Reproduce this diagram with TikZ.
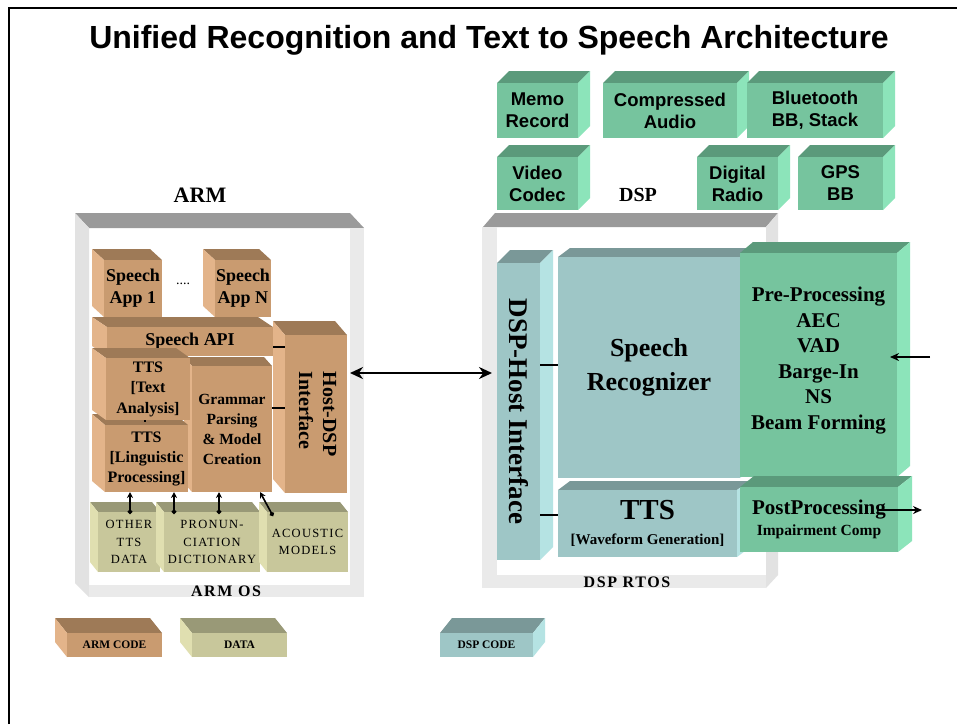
\documentclass[tikz,border=0pt]{standalone}
\usepackage{fontspec}
\setmainfont{Liberation Serif}
\newfontfamily\sansf{Liberation Sans}
\newfontfamily\dataf[LetterSpace=10]{Liberation Serif}
\usetikzlibrary{arrows.meta}
\definecolor{tanF}{HTML}{C99B70}
\definecolor{tanT}{HTML}{9E7A57}
\definecolor{tanS}{HTML}{E3B48A}
\definecolor{oliveF}{HTML}{C8C79B}
\definecolor{oliveT}{HTML}{999977}
\definecolor{oliveS}{HTML}{E0DFB0}
\definecolor{tealF}{HTML}{9EC6C6}
\definecolor{tealT}{HTML}{7A9898}
\definecolor{tealS}{HTML}{B5E3E3}
\definecolor{greenF}{HTML}{76C49E}
\definecolor{greenT}{HTML}{5B9A7B}
\definecolor{greenS}{HTML}{8CE4BA}
\definecolor{grayT}{HTML}{9A9A9A}
\definecolor{grayS}{HTML}{E2E2E2}
\definecolor{grayD}{HTML}{EAEAEA}
% name, x1, y1, x2, y2, dx, dy, colour prefix, node options; node text follows the call
\newcommand\cubeL[9]{%
  \fill[#8T] (#2,#3) -- ++(#6,#7) -- ++(#4-#2,0) -- (#4,#3) -- cycle;
  \fill[#8S] (#2,#3) -- ++(#6,#7) -- ++(0,#5-#3) -- (#2,#5) -- cycle;
  \node[fill=#8F, inner sep=0pt, outer sep=0pt, anchor=north west,
        minimum width={(#4-#2)*1pt}, minimum height={(#5-#3)*1pt}, align=center, #9] (#1) at (#2,#3)}
\newcommand\cubeR[9]{%
  \fill[#8T] (#2,#3) -- ++(#6,#7) -- ++(#4-#2,0) -- (#4,#3) -- cycle;
  \fill[#8S] (#4,#3) -- ++(#6,#7) -- ++(0,#5-#3) -- (#4,#5) -- cycle;
  \node[fill=#8F, inner sep=0pt, outer sep=0pt, anchor=north west,
        minimum width={(#4-#2)*1pt}, minimum height={(#5-#3)*1pt}, align=center, #9] (#1) at (#2,#3)}
\newcommand\fs[2]{\fontsize{#1}{#2}\selectfont}
\tikzset{
  apptxt/.style={font=\bfseries\fs{18}{22}},
  ttstxt/.style={font=\bfseries\fs{16}{20}},
  datatxt/.style={font=\dataf\fs{12.5}{17.5}},
  legtxt/.style={font=\bfseries\fs{11.5}{14}},
  greentxt/.style={font=\sansf\bfseries\fs{18.5}{22}},
  bigarrow/.style={line width=2.5pt, {Stealth[length=13pt,width=12pt]}-{Stealth[length=13pt,width=12pt]}},
  sidearrow/.style={line width=2.5pt, -{Stealth[length=9pt,width=8pt]}},
  dotarrow/.style={line width=1.6pt, {Circle[length=4.5pt]}-{Stealth[length=6pt,width=6pt]}},
  tick/.style={line width=2pt}
}
\begin{document}
\begin{tikzpicture}[x=1pt,y=-1pt]
\useasboundingbox[fill=white] (0,0) rectangle (957,724);
% frame
\draw[line width=2pt] (9,724) -- (9,8) -- (957,8);
% title
\node[font=\sansf\bfseries\fs{32}{34}, anchor=base] (title) at (489,48) {Unified Recognition and Text to Speech Architecture};

% ===== ARM container =====
\fill[grayT] (75,213) -- (350,213) -- (364,228) -- (89,228) -- cycle;
\fill[grayS] (75,213) -- (89,228) -- (89,597) -- (75,583) -- cycle;
\fill[grayD] (350,228) rectangle (364,597);
\fill[grayD] (89,585) rectangle (350,597);
\node[font=\dataf\bfseries\fs{16}{18}] (armos) at (226,591) {ARM OS};
\node[font=\bfseries\fs{22}{24}] (armlbl) at (200,195) {ARM};

\cubeL{hdi}{285}{335}{347}{493}{-12}{-14}{tan}{}{\rotatebox{-90}{\bfseries\fs{20}{24}\begin{tabular}{@{}l@{}}Host-DSP\\Interface\end{tabular}}};
\cubeL{gpm}{192}{366}{272}{492}{-8}{-9}{tan}{font=\bfseries\fs{15.5}{20}}{Grammar\\Parsing\\\& Model\\Creation};
\cubeL{api}{107}{327}{273}{356}{-15}{-10}{tan}{font=\bfseries\fs{18}{21}}{Speech API};
\cubeL{tlp}{105}{425}{188}{492}{-13}{-11}{tan}{ttstxt}{TTS\\{}[Linguistic\\Processing]};
\cubeL{tta}{106}{358}{190}{420}{-14}{-10}{tan}{font=\bfseries\fs{16}{20.5}}{TTS\\{}[Text\\Analysis]};
\cubeL{sa1}{104}{260}{162}{317}{-12}{-11}{tan}{apptxt}{Speech\\App 1};
\cubeL{san}{215}{260}{271}{317}{-12}{-11}{tan}{apptxt}{Speech\\App N};
\node[font=\fs{14}{16}] (dots) at (183,284) {....};

\cubeL{otd}{98}{512}{160}{572}{-8}{-10}{olive}{datatxt}{OTHER\\TTS\\DATA};
\cubeL{pcd}{164}{512}{260}{572}{-8}{-10}{olive}{datatxt}{PRONUN-\\CIATION\\DICTIONARY};
\cubeL{acm}{267}{512}{348}{572}{-8}{-10}{olive}{datatxt}{ACOUSTIC\\MODELS};

% ARM small connectors
\draw[dotarrow] ([yshift=-2pt]otd.north -| 130,0) -- (tlp.south -| 130,0);
\draw[dotarrow] ([yshift=-2pt]pcd.north -| 174,0) -- (tlp.south -| 174,0);
\draw[dotarrow] ([yshift=-2pt]pcd.north -| 219,0) -- (gpm.south -| 219,0);
\draw[dotarrow] ([xshift=6pt,yshift=-4pt]acm.north west) -- ([xshift=-12pt]gpm.south east);
\draw[tick] (api.east |- 0,347) -- (hdi.west |- 0,347);
\draw[tick] (gpm.east |- 0,408) -- (hdi.west |- 0,408);
\draw[tick] (tta.south -| 145,0) -- ([yshift=3pt]tlp.north -| 145,0);

% ===== DSP container =====
\fill[grayT] (495,213) -- (778,213) -- (766,227) -- (483,227) -- cycle;
\fill[grayS] (766,227) -- (778,213) -- (778,575) -- (766,588) -- cycle;
\fill[grayD] (482,227) rectangle (497,588);
\fill[grayD] (497,575) rectangle (766,588);
\node[font=\dataf\bfseries\fs{16}{18}] (rtos) at (627,582) {DSP RTOS};
\node[font=\bfseries\fs{20}{22}] (dsplbl) at (638,195) {DSP};

\cubeR{dhi}{497}{263}{540}{560}{13}{-13}{teal}{}{\rotatebox{-90}{\bfseries\fs{27}{28}DSP-Host Interface}};
\cubeR{srec}{558}{257}{740}{478}{12}{-9}{teal}{font=\bfseries\fs{26}{34}}{Speech\\Recognizer};
\cubeR{wtts}{558}{490}{737}{557}{12}{-9}{teal}{font=\bfseries\fs{15}{25}}{{\fs{29}{30}TTS}\\{\fs{15}{25}[Waveform Generation]}};
\cubeR{pre}{740}{253}{897}{477}{13}{-11}{green}{font=\bfseries\fs{21}{25.5}}{Pre-Processing\\AEC\\VAD\\Barge-In\\NS\\Beam Forming\\[-12pt]\mbox{}};
\cubeR{post}{740}{487}{898}{552}{14}{-11}{green}{font=\bfseries\fs{15.5}{21}}{{\fs{21}{23}PostProcessing}\\{\fs{15.5}{21}Impairment Comp}};

\draw[tick] (dhi.east |- 0,365) -- (srec.west |- 0,365);
\draw[tick] (dhi.east |- 0,515) -- (wtts.west |- 0,515);

% green top boxes
\cubeR{memo}{497}{83}{578}{138}{12}{-12}{green}{greentxt}{Memo\\Record};
\cubeR{comp}{603}{83}{737}{138}{12}{-12}{green}{greentxt}{Compressed\\Audio};
\cubeR{blue}{747}{83}{883}{138}{12}{-12}{green}{greentxt}{Bluetooth\\BB, Stack};
\cubeR{video}{497}{157}{578}{210}{12}{-12}{green}{greentxt}{Video\\Codec};
\cubeR{radio}{697}{157}{778}{210}{12}{-12}{green}{greentxt}{Digital\\Radio};
\cubeR{gps}{798}{157}{883}{210}{12}{-12}{green}{greentxt}{GPS\\BB};

% main arrows
\draw[bigarrow] ([xshift=3pt]hdi.east |- 0,373) -- ([xshift=-5pt]dhi.west |- 0,373);
\coordinate (inp) at (930,357);
\draw[sidearrow] (inp) -- ([xshift=-7pt]pre.east |- inp);
\coordinate (outp) at (922,510);
\draw[sidearrow] ([xshift=-21pt]post.east |- outp) -- (outp);

% legend
\cubeL{lgarm}{67}{633}{162}{657}{-12}{-15}{tan}{legtxt}{ARM CODE};
\cubeL{lgdata}{192}{633}{287}{657}{-12}{-15}{olive}{legtxt}{DATA};
\cubeR{lgdsp}{440}{633}{533}{657}{12}{-15}{teal}{legtxt}{DSP CODE};
\end{tikzpicture}
\end{document}
